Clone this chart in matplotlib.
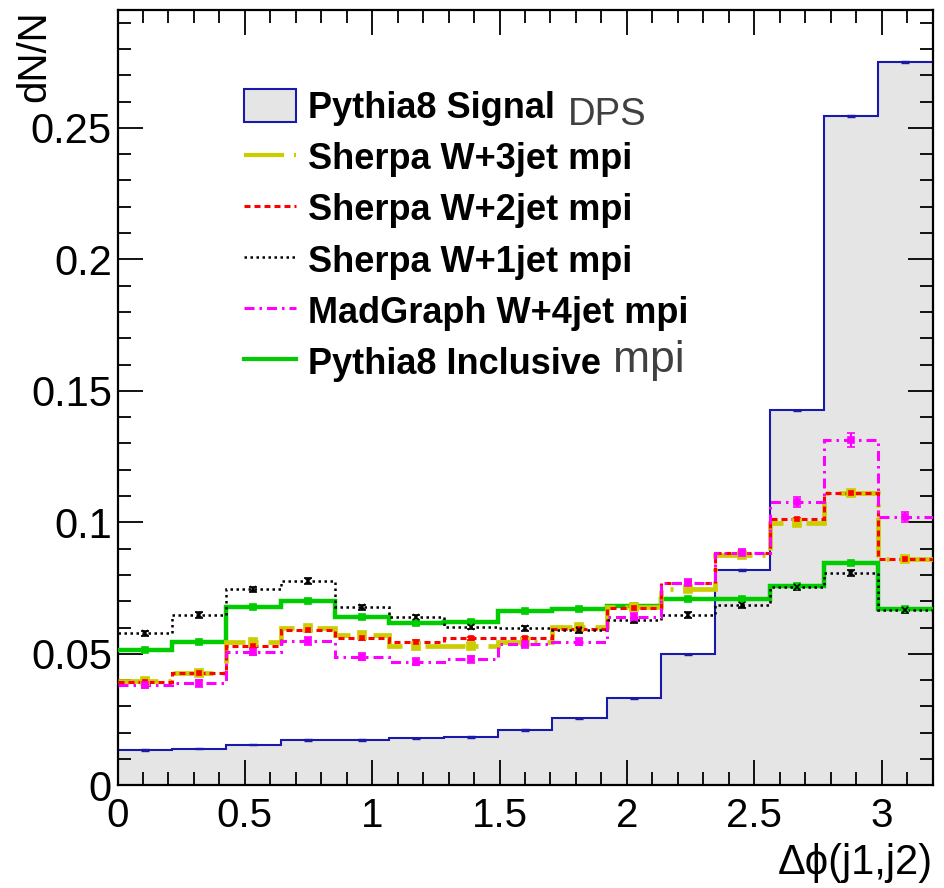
import numpy as np
import matplotlib
matplotlib.use("Agg")
import matplotlib.pyplot as plt
from matplotlib.patches import Patch
from matplotlib.lines import Line2D

plt.rcParams['font.family'] = ['Liberation Sans', 'DejaVu Sans']
plt.rcParams['lines.scale_dashes'] = False

# 15 bins between 0 and 3.2
edges = np.linspace(0, 3.2, 16)
centers = 0.5 * (edges[:-1] + edges[1:])

signal_dps = [0.0134, 0.0140, 0.0155, 0.0172, 0.0173, 0.0179, 0.0185, 0.0211,
              0.0255, 0.0331, 0.0498, 0.0818, 0.1426, 0.2546, 0.2751]
sherpa_w3 = [0.0397, 0.0426, 0.0546, 0.0600, 0.0570, 0.0531, 0.0531, 0.0546,
             0.0601, 0.0679, 0.0746, 0.0876, 0.0996, 0.1110, 0.0859]
sherpa_w2 = [0.0395, 0.0426, 0.0530, 0.0591, 0.0559, 0.0546, 0.0559, 0.0559,
             0.0593, 0.0675, 0.0771, 0.0885, 0.1011, 0.1113, 0.0859]
sherpa_w1 = [0.0578, 0.0648, 0.0745, 0.0777, 0.0677, 0.0639, 0.0603, 0.0597,
             0.0591, 0.0627, 0.0648, 0.0686, 0.0755, 0.0809, 0.0667]
madgraph_w4 = [0.0382, 0.0388, 0.0508, 0.0549, 0.0489, 0.0470, 0.0479, 0.0537,
               0.0546, 0.0640, 0.0770, 0.0882, 0.1078, 0.1313, 0.1021]
pythia_incl = [0.0515, 0.0544, 0.0679, 0.0702, 0.0639, 0.0616, 0.0622, 0.0663,
               0.0669, 0.0682, 0.0707, 0.0707, 0.0758, 0.0844, 0.0669]

err_signal = [0.0003] * 15
err_w3 = [0.0008, 0.0008, 0.0008, 0.0008, 0.0008, 0.0008, 0.0008, 0.0008,
          0.0008, 0.0008, 0.0009, 0.0009, 0.0010, 0.0010, 0.0009]
err_w2 = [0.0006] * 15
err_w1 = [0.0010, 0.0010, 0.0011, 0.0011, 0.0010, 0.0010, 0.0010, 0.0010,
          0.0010, 0.0010, 0.0010, 0.0010, 0.0011, 0.0011, 0.0010]
err_mg = [0.0012, 0.0012, 0.0014, 0.0014, 0.0013, 0.0013, 0.0013, 0.0014,
          0.0014, 0.0015, 0.0016, 0.0018, 0.0020, 0.0026, 0.0020]
err_incl = [0.0005] * 15

labels = ["Pythia8 Signal", "Sherpa W+3jet mpi", "Sherpa W+2jet mpi",
          "Sherpa W+1jet mpi", "MadGraph W+4jet mpi", "Pythia8 Inclusive"]

W, H = 944, 888
fig = plt.figure(figsize=(W / 100, H / 100), dpi=100)
ax = fig.add_axes([117.5 / W, 1 - 785.4 / H, 815 / W, 775.4 / H])

blue = "#1a1aa8"
yellow = "#cccc00"
green = "#00cc00"
magenta = "#ff00ff"

# signal: grey fill with blue outline
ax.stairs(signal_dps, edges, fill=True, color="#e5e5e5", zorder=1)
ax.stairs(signal_dps, edges, baseline=None, color=blue, lw=1.5, zorder=2)
ax.errorbar(centers, signal_dps, yerr=err_signal, fmt="none", ecolor=blue, lw=1.5, capsize=3, zorder=2)

px = 0.72  # points per pixel
series = [
    (pythia_incl, err_incl, green, "-", 3.2, "s", 4),
    (sherpa_w3, err_w3, yellow, (0, (40 * px, 10 * px, 3 * px, 10 * px)), 3.4, "s", 5.5),
    (sherpa_w2, err_w2, "red", (0, (6 * px, 4 * px)), 2.2, "s", 3),
    (sherpa_w1, err_w1, "black", (0, (2.5 * px, 3.5 * px)), 1.8, "x", 5),
    (madgraph_w4, err_mg, magenta, (0, (10 * px, 5 * px, 2.5 * px, 5 * px)), 2.2, "s", 4.5),
]
for vals, err, col, ls, lw, mk, ms in series:
    ax.stairs(vals, edges, baseline=None, color=col, ls=ls, lw=lw, zorder=3)
    ax.errorbar(centers, vals, yerr=err, fmt=mk, color=col, ms=ms, mew=1.2,
                lw=1.5, capsize=3, zorder=4)

ax.set_xlim(0, 3.2)
ax.set_ylim(0, 0.2948)
ax.set_xticks(np.arange(0, 3.01, 0.5))
ax.set_xticklabels(["0", "0.5", "1", "1.5", "2", "2.5", "3"])
ax.set_xticks(np.arange(0, 3.21, 0.1), minor=True)
ax.set_yticks([0, 0.05, 0.1, 0.15, 0.2, 0.25])
ax.set_yticklabels(["0", "0.05", "0.1", "0.15", "0.2", "0.25"])
ax.set_yticks(np.arange(0, 0.291, 0.01), minor=True)
ax.tick_params(which="both", direction="in", top=True, right=True, width=1.3, color="black")
ax.tick_params(which="major", length=18)
ax.tick_params(which="minor", length=9.5)
ax.tick_params(axis="x", labelsize=29, pad=8)
ax.tick_params(axis="y", labelsize=30, pad=4)
for s in ax.spines.values():
    s.set_linewidth(1.6)

ax.set_ylabel("dN/N", fontsize=29, loc="top")
ax.yaxis.set_label_coords(-0.079, 1.0)
ax.set_xlabel("\u0394\u03d5(j1,j2)", fontsize=30, loc="right")
ax.xaxis.set_label_coords(1.0, -0.074)

handles = [
    Patch(facecolor="#e5e5e5", edgecolor=blue, lw=1.5),
    Line2D([], [], color=yellow, ls=(0, (40 * px, 10 * px, 3 * px, 10 * px)), lw=3.0),
    Line2D([], [], color="red", ls=(0, (6 * px, 4 * px)), lw=2.2),
    Line2D([], [], color="black", ls=(0, (2.5 * px, 3.5 * px)), lw=1.8),
    Line2D([], [], color=magenta, ls=(0, (10 * px, 5 * px, 2.5 * px, 5 * px)), lw=2.2),
    Line2D([], [], color=green, lw=3.0),
]
leg = fig.legend(handles, labels, loc="upper left", bbox_to_anchor=(244 / W, 1 - 89 / H),
                 frameon=False, prop={"weight": "bold", "size": 26},
                 handlelength=1.45, handleheight=1.05, handletextpad=0.33,
                 labelspacing=0.39, borderpad=0, borderaxespad=0)

fig.text(568 / W, 1 - 125 / H, "DPS", fontsize=27.5, color="#404040", va="baseline")
fig.text(613 / W, 1 - 372 / H, "mpi", fontsize=32, color="#404040", va="baseline")

fig.savefig("out.png", dpi=100)
